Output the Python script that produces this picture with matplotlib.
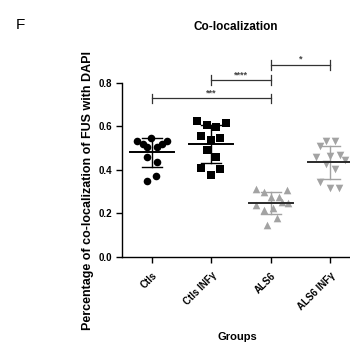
import numpy as np
import matplotlib
matplotlib.use("Agg")
import matplotlib.pyplot as plt

plt.rcParams['font.family'] = ['Liberation Sans', 'DejaVu Sans']

groups = ["Ctls", "Ctls INFγ", "ALS6", "ALS6 INFγ"]
ctls = [0.547, 0.532, 0.517, 0.506, 0.506, 0.517, 0.532, 0.460, 0.437, 0.371, 0.348]
ctls_inf = [0.624, 0.606, 0.598, 0.613, 0.556, 0.537, 0.544, 0.490, 0.460, 0.409, 0.403, 0.376]
als6 = [0.311, 0.299, 0.307, 0.273, 0.276, 0.238, 0.248, 0.215, 0.222, 0.250, 0.179, 0.146]
als6_inf = [0.509, 0.533, 0.533, 0.457, 0.463, 0.468, 0.445, 0.426, 0.402, 0.345, 0.314, 0.314]
series = [ctls, ctls_inf, als6, als6_inf]

# horizontal jitter (category units)
jit = [
    [-0.01, -0.25, -0.15, -0.08, 0.08, 0.17, 0.26, -0.08, 0.08, 0.07, -0.08],
    [-0.24, -0.08, 0.08, 0.25, -0.17, 0.0, 0.15, -0.08, 0.08, -0.17, 0.15, 0.0],
    [-0.25, -0.11, 0.27, 0.0, 0.14, -0.25, 0.29, -0.11, 0.03, 0.18, 0.10, -0.07],
    [-0.17, -0.07, 0.08, -0.24, 0.0, 0.16, 0.25, -0.08, 0.08, -0.17, 0.0, 0.14],
]
sig_pairs = [(0, 2, "***", 0.728), (1, 2, "****", 0.8125), (2, 3, "*", 0.883)]

markers = ['o', 's', '^', 'v']
colors = ['black', 'black', '#a3a3a3', '#a3a3a3']
sdcolors = ['black', 'black', '#a3a3a3', '#a3a3a3']
meancolors = ['black', 'black', '#2a2a2a', '#2a2a2a']

fig = plt.figure(figsize=(3.5, 3.45), dpi=100)
ax = fig.add_axes([0.349, 0.256, 0.651, 0.504])

for i, vals in enumerate(series):
    v = np.array(vals)
    x = i + np.array(jit[i])
    ax.scatter(x, v, marker=markers[i], s=30, color=colors[i], zorder=3, linewidths=0)
    m = v.mean()
    sd = v.std(ddof=1)
    ax.plot([i - 0.37, i + 0.37], [m, m], color=meancolors[i], lw=1.4, zorder=4)
    ax.plot([i, i], [m - sd, m + sd], color=sdcolors[i], lw=1.0, zorder=2)
    for yy in (m - sd, m + sd):
        ax.plot([i - 0.17, i + 0.17], [yy, yy], color=sdcolors[i], lw=1.0, zorder=2)

for a, b, label, h in sig_pairs:
    ax.plot([a, b], [h, h], color='#333333', lw=0.9, clip_on=False)
    for xx in (a, b):
        ax.plot([xx, xx], [h - 0.022, h + 0.022], color='#333333', lw=0.9, clip_on=False)
    ax.text((a + b) / 2, h + 0.004, label, ha='center', va='bottom', fontsize=6.5,
            fontweight='bold', color='#444444', clip_on=False)

ax.set_xlim(-0.5, 3.33)
ax.set_ylim(0, 0.8)
ax.set_yticks([0.0, 0.2, 0.4, 0.6, 0.8])
ax.set_yticklabels(["0.0", "0.2", "0.4", "0.6", "0.8"], fontsize=7, fontweight='bold')
ax.set_xticks(range(4))
ax.set_xticklabels(groups, rotation=45, ha='right', rotation_mode='anchor',
                   fontsize=7, fontweight='bold')
ax.tick_params(axis='both', length=4, width=1, direction='out', pad=3)
ax.tick_params(axis='x', pad=6)
for s in ['top', 'right']:
    ax.spines[s].set_visible(False)
for s in ['left', 'bottom']:
    ax.spines[s].set_linewidth(1.0)

fig.text(88 / 350, 1 - 190 / 345, "Percentage of co-localization of FUS with DAPI",
         rotation=90, ha='center', va='center', fontsize=9, fontweight='bold')
fig.text(237 / 350, 1 - 337 / 345, "Groups", ha='center', va='center',
         fontsize=8, fontweight='bold')
fig.text(236 / 350, 1 - 27 / 345, "Co-localization", ha='center', va='center',
         fontsize=8.5, fontweight='bold')
fig.text(20 / 350, 1 - 25 / 345, "F", ha='center', va='center', fontsize=11)

fig.savefig("out.png", dpi=100)
